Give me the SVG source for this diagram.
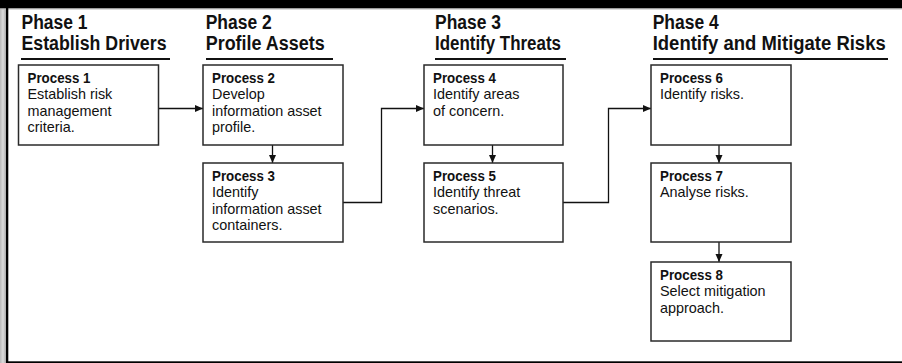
<svg xmlns="http://www.w3.org/2000/svg" width="902" height="363" viewBox="0 0 902 363">
<style>
.frame{fill:#000}
.box{fill:#fff;stroke:#2a2a2a;stroke-width:1.5}
.ph{font-family:"Liberation Sans",Arial,sans-serif;font-weight:bold;font-size:19.5px;fill:#111}
.ul{stroke:#111;stroke-width:2}
.t{font-family:"Liberation Sans",Arial,sans-serif;font-size:14.4px;fill:#111}
.b{font-weight:bold}
.con{fill:none;stroke:#111;stroke-width:1.3}
</style>
<defs>
<linearGradient id="strip" x1="0" y1="0" x2="1" y2="0">
<stop offset="0" stop-color="#b8b8b8"/>
<stop offset="0.5" stop-color="#dcdcdc"/>
<stop offset="1" stop-color="#a8a8a8"/>
</linearGradient>
<marker id="arr" markerUnits="userSpaceOnUse" markerWidth="9" markerHeight="8" refX="8" refY="3.5" orient="auto">
<path d="M0,0 L8,3.5 L0,7 z" fill="#111"/>
</marker>
</defs>
<rect x="0" y="0" width="902" height="363" fill="#fff"/>
<rect x="0" y="0" width="6" height="363" fill="url(#strip)"/>
<rect class="frame" x="0" y="0" width="902" height="8.5"/>
<rect x="0" y="8.5" width="902" height="1" fill="#bbb"/>
<rect class="frame" x="6" y="0" width="2.3" height="363"/>
<rect class="frame" x="6" y="361.3" width="896" height="1.7"/>

<g id="phase1">
<text class="ph" x="21.5" y="29" textLength="66" lengthAdjust="spacingAndGlyphs">Phase 1</text>
<text class="ph" x="21.5" y="50" textLength="145" lengthAdjust="spacingAndGlyphs">Establish Drivers</text>
<line class="ul" x1="21" y1="59" x2="170" y2="59"/>
</g>
<g id="phase2">
<text class="ph" x="205.7" y="29" textLength="66" lengthAdjust="spacingAndGlyphs">Phase 2</text>
<text class="ph" x="205.7" y="50" textLength="119" lengthAdjust="spacingAndGlyphs">Profile Assets</text>
<line class="ul" x1="206" y1="59" x2="333" y2="59"/>
</g>
<g id="phase3">
<text class="ph" x="435" y="29" textLength="66" lengthAdjust="spacingAndGlyphs">Phase 3</text>
<text class="ph" x="435" y="50" textLength="126" lengthAdjust="spacingAndGlyphs">Identify Threats</text>
<line class="ul" x1="435" y1="59" x2="566" y2="59"/>
</g>
<g id="phase4">
<text class="ph" x="652.7" y="29" textLength="66" lengthAdjust="spacingAndGlyphs">Phase 4</text>
<text class="ph" x="652.7" y="50" textLength="233" lengthAdjust="spacingAndGlyphs">Identify and Mitigate Risks</text>
<line class="ul" x1="653" y1="59" x2="888" y2="59"/>
</g>

<g id="connectors">
<path class="con" marker-end="url(#arr)" d="M158.5,108.5 H203"/>
<path class="con" marker-end="url(#arr)" d="M272.5,145 V163"/>
<path class="con" marker-end="url(#arr)" d="M343,202.5 H381.5 V108.5 H424"/>
<path class="con" marker-end="url(#arr)" d="M492.5,145 V163"/>
<path class="con" marker-end="url(#arr)" d="M563,202.5 H608.5 V108.5 H651"/>
<path class="con" marker-end="url(#arr)" d="M719,145 V163"/>
<path class="con" marker-end="url(#arr)" d="M719,242 V262"/>
</g>

<g id="process1">
<rect class="box" x="18.5" y="65" width="140" height="80"/>
<text class="t" x="27.5" y="83"><tspan class="b" textLength="63" lengthAdjust="spacingAndGlyphs">Process 1</tspan><tspan x="27.5" dy="16.4">Establish risk</tspan><tspan x="27.5" dy="16.4">management</tspan><tspan x="27.5" dy="16.4">criteria.</tspan></text>
</g>
<g id="process2">
<rect class="box" x="203" y="65" width="140" height="80"/>
<text class="t" x="212" y="83"><tspan class="b" textLength="63" lengthAdjust="spacingAndGlyphs">Process 2</tspan><tspan x="212" dy="16.4">Develop</tspan><tspan x="212" dy="16.4">information asset</tspan><tspan x="212" dy="16.4">profile.</tspan></text>
</g>
<g id="process3">
<rect class="box" x="203" y="163" width="140" height="79"/>
<text class="t" x="212" y="181"><tspan class="b" textLength="63" lengthAdjust="spacingAndGlyphs">Process 3</tspan><tspan x="212" dy="16.4">Identify</tspan><tspan x="212" dy="16.4">information asset</tspan><tspan x="212" dy="16.4">containers.</tspan></text>
</g>
<g id="process4">
<rect class="box" x="424" y="65" width="139" height="80"/>
<text class="t" x="433" y="83"><tspan class="b" textLength="63" lengthAdjust="spacingAndGlyphs">Process 4</tspan><tspan x="433" dy="16.4">Identify areas</tspan><tspan x="433" dy="16.4">of concern.</tspan></text>
</g>
<g id="process5">
<rect class="box" x="424" y="163" width="139" height="79"/>
<text class="t" x="433" y="181"><tspan class="b" textLength="63" lengthAdjust="spacingAndGlyphs">Process 5</tspan><tspan x="433" dy="16.4">Identify threat</tspan><tspan x="433" dy="16.4">scenarios.</tspan></text>
</g>
<g id="process6">
<rect class="box" x="651" y="65" width="140" height="80"/>
<text class="t" x="660" y="83"><tspan class="b" textLength="63" lengthAdjust="spacingAndGlyphs">Process 6</tspan><tspan x="660" dy="16.4">Identify risks.</tspan></text>
</g>
<g id="process7">
<rect class="box" x="651" y="163" width="140" height="79"/>
<text class="t" x="660" y="181"><tspan class="b" textLength="63" lengthAdjust="spacingAndGlyphs">Process 7</tspan><tspan x="660" dy="16.4">Analyse risks.</tspan></text>
</g>
<g id="process8">
<rect class="box" x="651" y="262" width="140" height="79"/>
<text class="t" x="660" y="280"><tspan class="b" textLength="63" lengthAdjust="spacingAndGlyphs">Process 8</tspan><tspan x="660" dy="16.4">Select mitigation</tspan><tspan x="660" dy="16.4">approach.</tspan></text>
</g>
</svg>
